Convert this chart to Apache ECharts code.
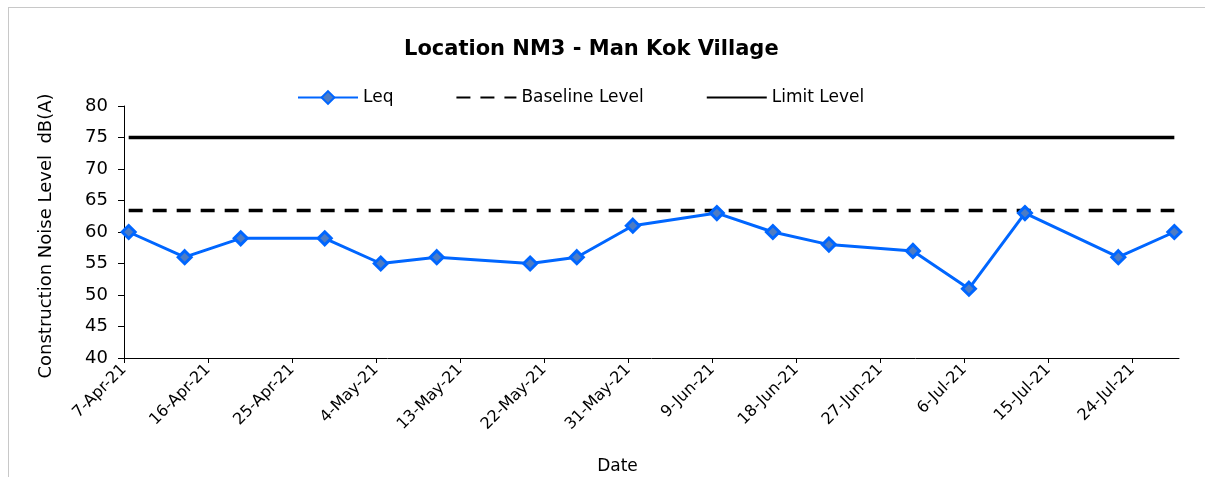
<!DOCTYPE html>
<html>
<head>
    <meta charset="utf-8" />
    <title>Location NM3 - Man Kok Village</title>
    <script src="https://cdn.jsdelivr.net/npm/echarts@6/dist/echarts.min.js"></script>
    <style type="text/css">
        html, body {
            margin: 0;
            padding: 0;
            background-color: #fff;
            overflow: hidden;
        }

        .frame {
            position: absolute;
            left: 8px;
            top: 7px;
            width: 1400px;
            height: 600px;
            border: 1px solid #c8c8c8;
        }

        #chart {
            position: absolute;
            left: 0;
            top: 0;
            width: 1205px;
            height: 477px;
        }
    </style>
</head>
<body>
    <div class="frame"></div>
    <div id="chart"></div>
    <script type="text/javascript">
        // measurement dates and Leq readings
        var dates = ['2021-04-07', '2021-04-13', '2021-04-19', '2021-04-28', '2021-05-04', '2021-05-10',
            '2021-05-20', '2021-05-25', '2021-05-31', '2021-06-09', '2021-06-15', '2021-06-21',
            '2021-06-30', '2021-07-06', '2021-07-12', '2021-07-22', '2021-07-28'];
        var leq = [60, 56, 59, 59, 55, 56, 55, 56, 61, 63, 60, 58, 57, 51, 63, 56, 60];
        var baselineLevel = 63.4;
        var limitLevel = 75;

        var axisStart = '2021-04-07';
        var axisEnd = '2021-07-29';
        var tickDays = 9;
        var monthNames = ['Jan', 'Feb', 'Mar', 'Apr', 'May', 'Jun', 'Jul', 'Aug', 'Sep', 'Oct', 'Nov', 'Dec'];

        var DAY = 86400000;
        var base = Date.parse(axisStart);
        var dayOf = function (s) { return (Date.parse(s) - base) / DAY; };
        var fmtDay = function (v) {
            var d = new Date(base + Math.round(v) * DAY);
            return d.getUTCDate() + '-' + monthNames[d.getUTCMonth()] + '-' + String(d.getUTCFullYear()).slice(2);
        };

        // Excel date axis puts each point in the middle of its day
        var leqData = dates.map(function (s, i) { return [dayOf(s) + 0.5, leq[i]]; });
        var first = dayOf(dates[0]) + 0.5;
        var last = dayOf(dates[dates.length - 1]) + 0.5;

        var font = "'DejaVu Sans', 'Liberation Sans', Arial, sans-serif";
        var myChart = echarts.init(document.getElementById('chart'), null, { renderer: 'canvas' });
        var option = {
            backgroundColor: 'transparent',
            animation: false,
            title: {
                text: 'Location NM3 - Man Kok Village',
                left: 399,
                top: 34,
                textStyle: { fontFamily: font, fontSize: 21, fontWeight: 'bold', color: '#000' }
            },
            legend: {
                left: 292,
                top: 84,
                itemWidth: 60,
                itemHeight: 16,
                itemGap: 62,
                textStyle: { fontFamily: font, fontSize: 17, color: '#000' },
                data: [
                    { name: 'Leq' },
                    { name: 'Baseline Level', itemStyle: { opacity: 0 } },
                    { name: 'Limit Level', itemStyle: { opacity: 0 } }
                ]
            },
            grid: { left: 124, right: 26, top: 106, bottom: 119, outerBoundsMode: 'none', containLabel: false },
            xAxis: {
                type: 'value',
                min: 0,
                max: dayOf(axisEnd),
                interval: tickDays,
                name: 'Date',
                nameLocation: 'middle',
                nameGap: 100,
                nameTextStyle: { fontFamily: font, fontSize: 17, color: '#000', padding: [0, 68, 0, 0] },
                splitLine: { show: false },
                axisLine: { lineStyle: { color: '#000', width: 1 } },
                axisTick: { show: true, length: 5, lineStyle: { color: '#000' } },
                axisLabel: {
                    rotate: 45,
                    margin: 9,
                    fontFamily: font,
                    fontSize: 16,
                    color: '#000',
                    showMaxLabel: false,
                    formatter: fmtDay
                }
            },
            yAxis: {
                type: 'value',
                min: 40,
                max: 80,
                interval: 5,
                name: 'Construction Noise Level  dB(A)',
                nameLocation: 'middle',
                nameGap: 69,
                nameTextStyle: { fontFamily: font, fontSize: 18, color: '#000', padding: [0, 8, 0, 0] },
                splitLine: { show: false },
                axisLine: { show: true, lineStyle: { color: '#000', width: 1 } },
                axisTick: { show: true, length: 6, lineStyle: { color: '#000' } },
                axisLabel: { margin: 16, fontFamily: font, fontSize: 18, color: '#000' }
            },
            series: [
                {
                    name: 'Leq',
                    type: 'line',
                    z: 5,
                    data: leqData,
                    symbol: 'diamond',
                    symbolSize: 13,
                    lineStyle: { color: '#0066ff', width: 3 },
                    itemStyle: { color: '#4d7cc4', borderColor: '#0066ff', borderWidth: 3 }
                },
                {
                    name: 'Baseline Level',
                    type: 'line',
                    z: 3,
                    data: [[first, baselineLevel], [last, baselineLevel]],
                    symbol: 'none',
                    lineStyle: { color: '#000', width: 3.5, type: [14, 10] },
                    itemStyle: { color: '#000' }
                },
                {
                    name: 'Limit Level',
                    type: 'line',
                    z: 3,
                    data: [[first, limitLevel], [last, limitLevel]],
                    symbol: 'none',
                    lineStyle: { color: '#000', width: 3.5 },
                    itemStyle: { color: '#000' }
                }
            ]
        };
        myChart.setOption(option);
        window.onresize = myChart.resize;
    </script>
</body>
</html>
